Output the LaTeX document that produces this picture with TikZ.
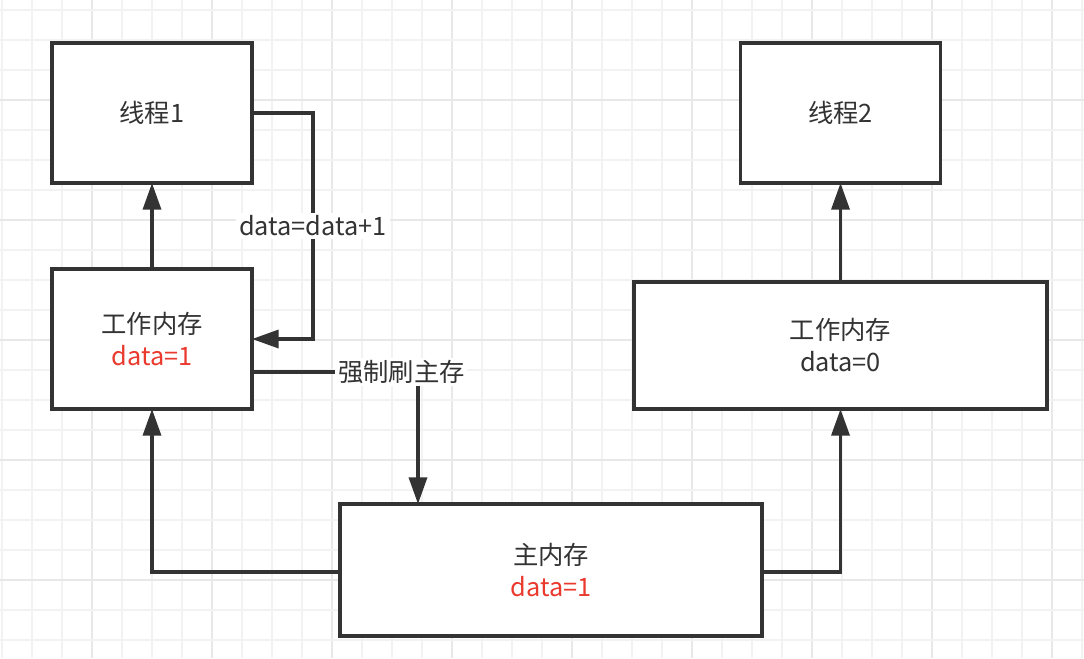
\documentclass[tikz,border=0pt]{standalone}
\usepackage{fontspec}
\setmainfont{Noto Sans CJK SC}
\usetikzlibrary{arrows.meta,calc}
\definecolor{ink}{HTML}{333333}
\definecolor{redtxt}{HTML}{EA3A2E}
\definecolor{gridminor}{HTML}{F2F2F2}
\definecolor{gridmajor}{HTML}{E8E8E8}
\tikzset{
  box/.style={draw=ink, line width=2.7pt, fill=white, text=ink, align=center,
    inner sep=0pt, outer sep=0pt, font=\fontsize{19}{24}\selectfont},
  conn/.style={draw=ink, line width=2.6pt, -{Triangle[length=20pt,width=13.5pt]}},
  lbl/.style={fill=white, text=ink, inner sep=2pt, font=\fontsize{19}{24}\selectfont}
}
\begin{document}
\begin{tikzpicture}[x=0.75pt,y=-0.75pt]
\useasboundingbox (0,0) rectangle (1084,658);
\fill[white] (0,0) rectangle (1084,658);
% grid
\foreach \i in {0,...,36} {
  \pgfmathtruncatemacro{\xx}{2+30*\i}
  \pgfmathtruncatemacro{\mm}{mod(\i,4)}
  \ifnum\mm=3 \draw[gridmajor, line width=0.9pt] (\xx,0) -- (\xx,658);
  \else \draw[gridminor, line width=0.8pt] (\xx,0) -- (\xx,658); \fi
}
\foreach \j in {0,...,21} {
  \pgfmathtruncatemacro{\yy}{10+30*\j}
  \pgfmathtruncatemacro{\mm}{mod(\j,4)}
  \ifnum\mm=3 \draw[gridmajor, line width=0.9pt] (0,\yy) -- (1084,\yy);
  \else \draw[gridminor, line width=0.8pt] (0,\yy) -- (1084,\yy); \fi
}
% boxes
\node[box, minimum width=150pt, minimum height=105pt] (t1) at (152,113) {线程1};
\node[box, minimum width=150pt, minimum height=105pt] (t2) at (840.5,113) {线程2};
\node[box, minimum width=150pt, minimum height=105pt] (w1) at (152,339) {工作内存\\{\color{redtxt}data=1}};
\node[box, minimum width=309.75pt, minimum height=95.25pt] (w2) at (840.5,345.5) {工作内存\\data=0};
\node[box, minimum width=316.5pt, minimum height=99pt] (m) at (551,570) {主内存\\{\color{redtxt}data=1}};
% connectors
\draw[conn] (w1.north) -- (t1.south);
\draw[conn] (t1.east) -- ++(61,0) |- node[lbl, pos=0.25] {data=data+1} (w1.east);
\draw[conn] ($(w1.east)+(0,33)$) -| node[lbl, pos=0.45] {强制刷主存} ($(m.north west)+(78,0)$);
\draw[conn] ($(m.west)+(0,2)$) -| (w1.south);
\draw[conn] ($(m.east)+(0,2)$) -| (w2.south);
\draw[conn] (w2.north) -- (t2.south);
\end{tikzpicture}
\end{document}
